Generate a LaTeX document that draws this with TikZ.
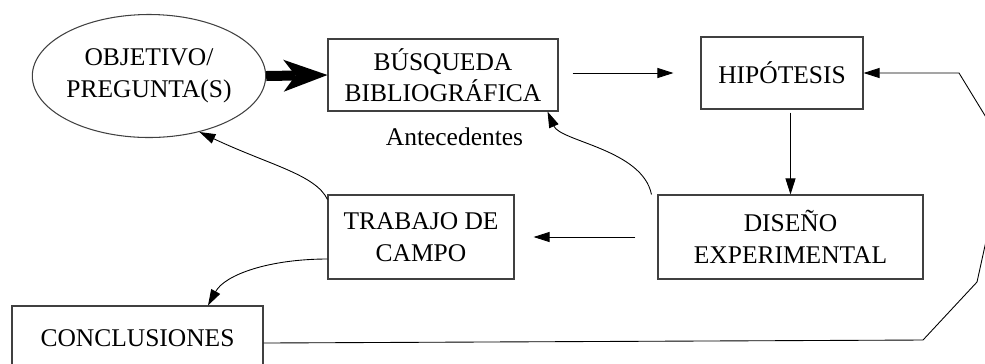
\documentclass[tikz,border=0pt]{standalone}
\usepackage{fontspec}
\setmainfont{Liberation Serif}
\usetikzlibrary{shapes.geometric,arrows.meta}

\tikzset{
    caja/.style={draw=black!75,line width=0.6pt,rectangle,align=center,inner sep=0pt,
        font=\fontsize{14.5}{18}\selectfont},
    texto/.style={inner sep=0pt,font=\fontsize{14.5}{18}\selectfont},
    flecha/.style={line width=0.5pt,-{Triangle[length=3.2mm,width=2mm]}},
    gorda/.style={line width=0.2cm,-{Stealth[length=0.88cm,width=0.64cm,inset=0.24cm,line width=0pt]}}
}

\begin{document}
\begin{tikzpicture}
    \useasboundingbox (0,0) rectangle (19.7,-7.26);
    % cajas
    \node[caja,ellipse,minimum width=4.1cm,minimum height=2.46cm] (obj) at (2.98,-1.52) {OBJETIVO/\\PREGUNTA(S)};
    \node[caja,minimum width=4.6cm,minimum height=1.44cm] (busq) at (8.86,-1.5) {BÚSQUEDA\\BIBLIOGRÁFICA};
    \node[texto] (ante) at (9.09,-2.74) {Antecedentes};
    \node[caja,minimum width=3.24cm,minimum height=1.44cm] (hip) at (15.64,-1.46) {HIPÓTESIS};
    \node[caja,minimum width=5.3cm,minimum height=1.68cm] (dis) at (15.81,-4.74) {DISEÑO\\EXPERIMENTAL};
    \node[caja,minimum width=3.72cm,minimum height=1.68cm] (trab) at (8.42,-4.74) {TRABAJO DE\\CAMPO};
    \node[caja,minimum width=5.02cm,minimum height=1.28cm] (concl) at (2.75,-6.76) {CONCLUSIONES};
    % flechas
    \draw[gorda] (obj.east) -- (busq.west);
    \draw[flecha,shorten <=0.28cm,shorten >=0.54cm] (busq.east |- hip.west) -- (hip.west);
    \draw[flecha,shorten <=0.06cm] (dis.north |- hip.south) -- (dis.north);
    \draw[flecha,shorten <=0.44cm,shorten >=0.38cm] (dis.west) -- (trab.east);
    \draw[flecha] ([xshift=-1.2mm]dis.north west) .. controls +(-0.18,0.9) and +(0.26,-0.6) .. ([xshift=-2.2mm]busq.south east);
    \draw[flecha] ([yshift=-1mm]trab.north west) .. controls +(-0.24,0.5) and +(1.4,-0.66) .. (obj.-48);
    \draw[flecha] ([yshift=-4.4mm]trab.west) .. controls +(-1.16,0) and +(0.34,0.62) .. ([xshift=1.41cm]concl.north);
    \draw[flecha] ([yshift=-1mm]concl.east) -- (18.46,-6.8) -- (19.54,-5.64) -- (20.12,-3.0) -- (19.18,-1.46) -- (hip.east);
\end{tikzpicture}
\end{document}
